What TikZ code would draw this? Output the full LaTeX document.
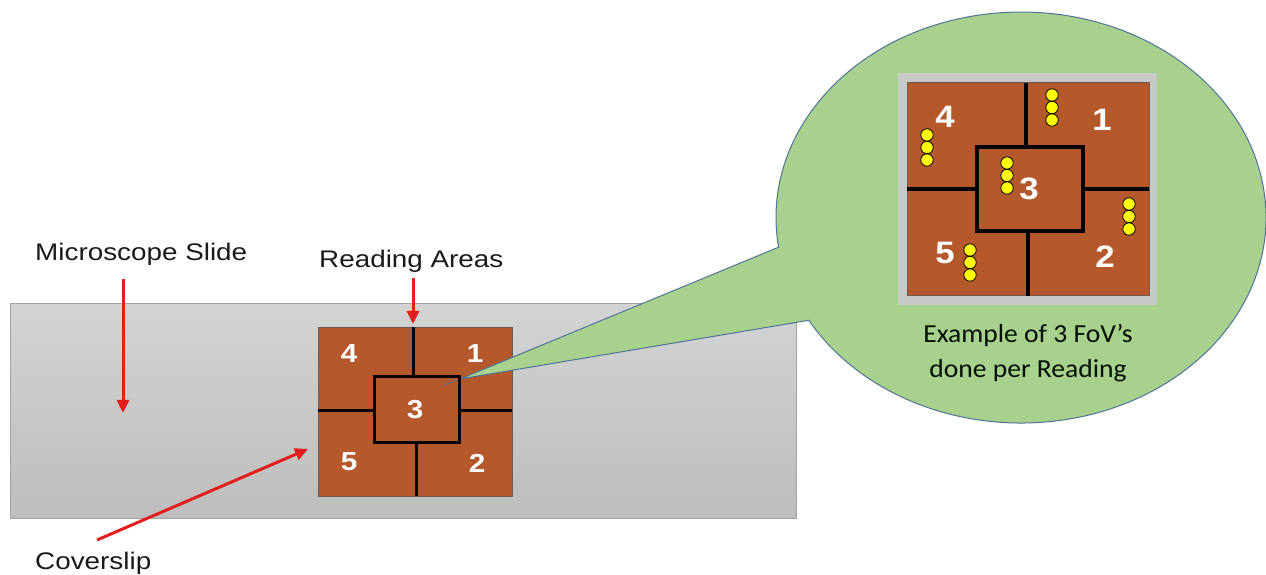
\documentclass[tikz,border=0pt]{standalone}
\usepackage{fontspec}
\setmainfont{Liberation Sans}
\newfontfamily\calloutfont{Carlito}
\usetikzlibrary{arrows.meta}

\definecolor{slidetop}{HTML}{D3D3D3}
\definecolor{slidebot}{HTML}{BDBDBD}
\definecolor{slideedge}{HTML}{A3A3A3}
\definecolor{brick}{HTML}{B5592C}
\definecolor{brickedge}{HTML}{6E5A50}
\definecolor{bubble}{HTML}{A9D18E}
\definecolor{bubbleedge}{HTML}{4F7396}
\definecolor{arrowred}{HTML}{E41E1E}
\definecolor{framegray}{HTML}{C8C8C8}
\definecolor{labeltext}{HTML}{1A1A1A}
\definecolor{dotyellow}{HTML}{FFFF00}

\tikzset{
  labeltxt/.style={font=\fontsize{24}{28}\selectfont, text=labeltext, inner sep=0pt,
                xscale=1.16, transform shape},
  smalldigit/.style={font=\bfseries\fontsize{26}{26}\selectfont, text=white, inner sep=0pt,
                xscale=1.14, transform shape},
  bigdigit/.style={font=\bfseries\fontsize{31}{31}\selectfont, text=white, inner sep=0pt,
                xscale=1.12, transform shape},
  captiontext/.style={font=\calloutfont\fontsize{26}{30}\selectfont, text=black!85!green!40!black,
                inner sep=0pt, xscale=1.06, transform shape},
  redarrow/.style={draw=arrowred, line width=3pt, -{Triangle[length=13pt,width=12pt]}},
  thinwall/.style={line width=3pt, black},
  thickwall/.style={line width=4pt, black},
  fovdot/.style={draw=black, line width=0.8pt, fill=dotyellow},
}

\begin{document}
\begin{tikzpicture}[x=1pt,y=1pt]
\useasboundingbox (0,0) rectangle (1266,575);

% microscope slide
\shade[top color=slidetop, bottom color=slidebot] (10,56) rectangle (796,271);
\draw[slideedge, line width=1pt] (10,56) rectangle (796,271);

% coverslip with its five reading areas
\filldraw[fill=brick, draw=brickedge, line width=0.8pt] (318,79) rectangle (512,248);

% callout bubble with its tail
\filldraw[fill=bubble, draw=bubbleedge, line width=1pt]
  (460,196) -- (778.6,327.8)
  arc[start angle=188.3, end angle=-150, x radius=245pt, y radius=205.5pt] -- cycle;
\draw[bubbleedge, line width=0.8pt] (460,196) -- (444,190);

% walls of the reading areas on the coverslip
\draw[thinwall] (374,132) rectangle (459,198);
\draw[thinwall] (413,248) -- (413,198);
\draw[thinwall] (416,132) -- (416,79);
\draw[thinwall] (318,164) -- (374,164);
\draw[thinwall] (459,164) -- (512,164);

\node[smalldigit] (s4) at (349,221) {4};
\node[smalldigit] (s1) at (475,221) {1};
\node[smalldigit] (s3) at (415,165) {3};
\node[smalldigit] (s5) at (349,113) {5};
\node[smalldigit] (s2) at (477,112) {2};

% enlarged coverslip inside the bubble
\fill[framegray] (898,270) rectangle (1157,502);
\filldraw[fill=brick, draw=brickedge, line width=1pt] (907,279) rectangle (1149,492);
\draw[thickwall] (977,344) rectangle (1083,428);
\draw[thickwall] (1026,492) -- (1026,428);
\draw[thickwall] (1028,344) -- (1028,279);
\draw[thickwall] (907,386) -- (977,386);
\draw[thickwall] (1083,386) -- (1149,386);

\node[bigdigit] (b4) at (945,458) {4};
\node[bigdigit] (b1) at (1102,455) {1};
\node[bigdigit] (b3) at (1029,386) {3};
\node[bigdigit] (b5) at (945,322) {5};
\node[bigdigit] (b2) at (1105,318) {2};

% three fields of view per reading area
\foreach \x/\y in {1052/480, 927/440, 1007/412, 1129/371, 970/325}{
  \foreach \k in {0,1,2}{
    \draw[fovdot] (\x,\y-12.5*\k) circle[radius=6.2pt];
  }
}

\node[captiontext, anchor=base] (fovA) at (1028,232) {Example of 3 FoV’s};
\node[captiontext, anchor=base] (fovB) at (1028,197) {done per Reading};

% labels and pointers
\node[labeltxt, anchor=base west] (slidelbl) at (35,314) {Microscope Slide};
\node[labeltxt, anchor=base west] (arealbl) at (319,307) {Reading Areas};
\node[labeltxt, anchor=base west] (coverlbl) at (35,5) {Coverslip};

\coordinate (slideFrom) at (123,296);
\coordinate (slideTo) at (123,162);
\coordinate (areaFrom) at (413,297);
\coordinate (areaTo) at (413,251);
\coordinate (coverFrom) at (97,35);
\coordinate (coverTo) at (308,126);

\draw[redarrow] (slideFrom) -- (slideTo);
\draw[redarrow] (areaFrom) -- (areaTo);
\draw[redarrow] (coverFrom) -- (coverTo);
\end{tikzpicture}
\end{document}
